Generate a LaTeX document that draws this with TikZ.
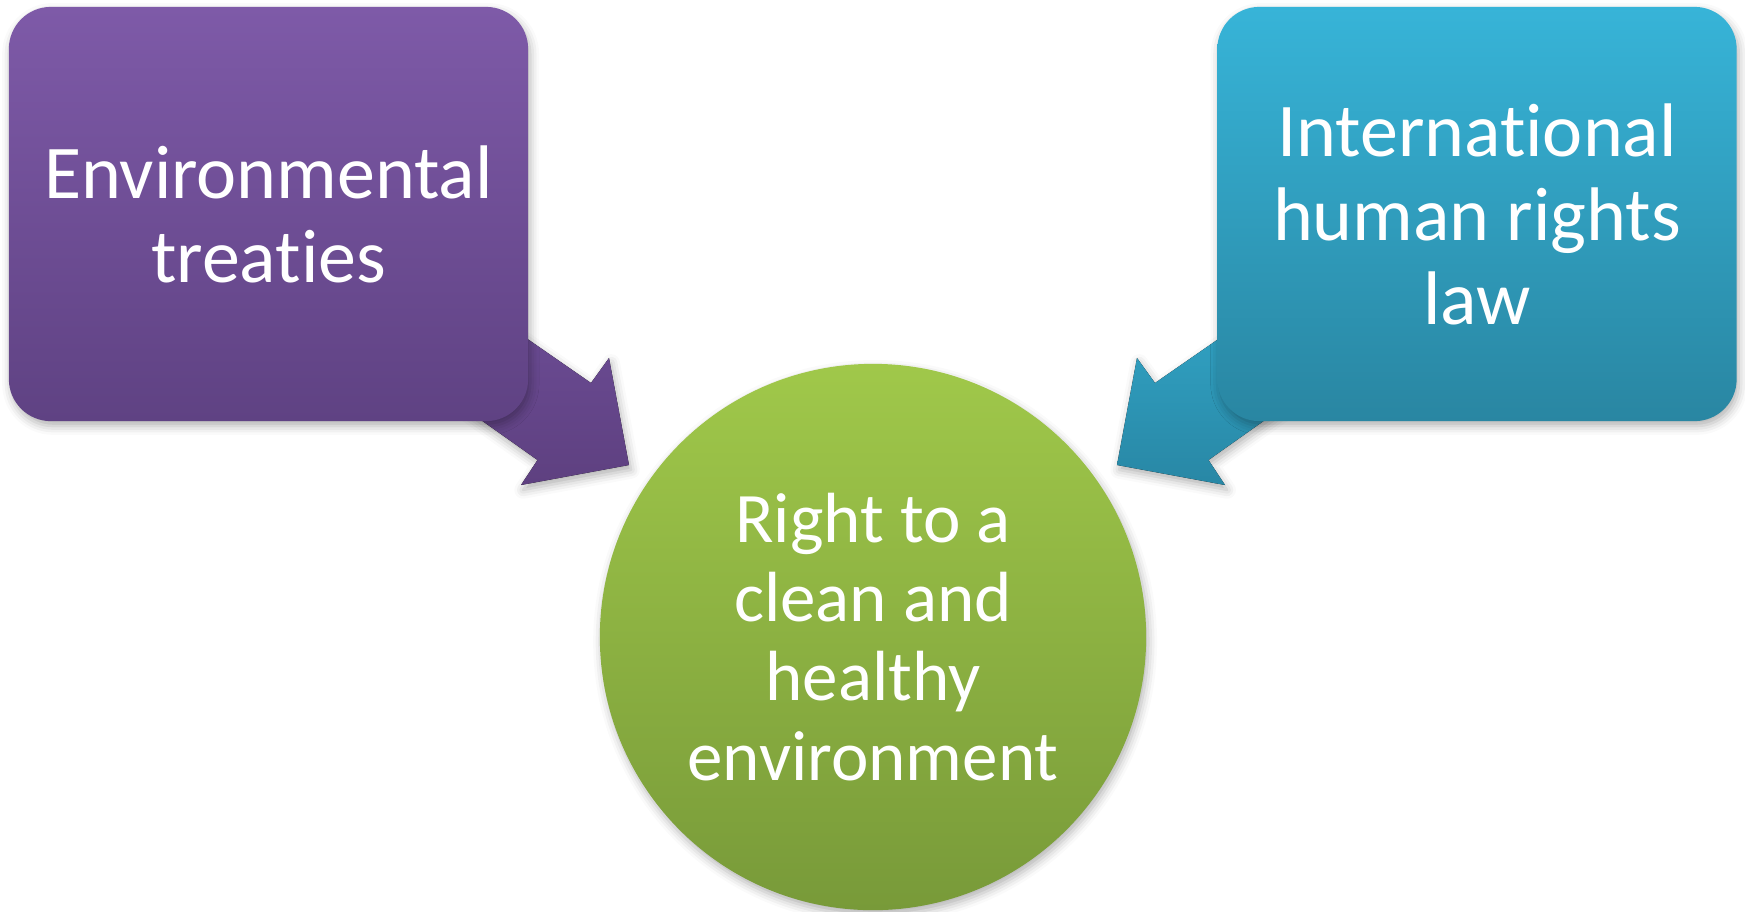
\documentclass[tikz,border=0pt]{standalone}
\usepackage{fontspec}
\setmainfont[Ligatures={NoCommon,NoContextual}]{Carlito}
\usetikzlibrary{shadows.blur}

\definecolor{purpletop}{HTML}{7E5AA8}
\definecolor{purplebot}{HTML}{5F4283}
\definecolor{purplearrowtop}{HTML}{6E4E98}
\definecolor{purplearrowbot}{HTML}{5E4080}
\definecolor{bluetop}{HTML}{37B4D8}
\definecolor{bluebot}{HTML}{2986A2}
\definecolor{bluearrowtop}{HTML}{33A8CA}
\definecolor{bluearrowbot}{HTML}{2887A5}
\definecolor{greentop}{HTML}{A0C84A}
\definecolor{greenbot}{HTML}{789A39}

\begin{document}
\begin{tikzpicture}[x=0.01cm,y=-0.01cm,
    softshadow/.style={blur shadow={shadow xshift=0.6pt,shadow yshift=-1.4pt,shadow blur radius=2.5pt,shadow opacity=30}},
    sourcebox/.style={softshadow,rounded corners=0.42cm,minimum width=5.19cm,minimum height=4.14cm,
      text=white,align=center,font=\fontsize{21.6}{23.9}\selectfont},
    goal/.style={softshadow,circle,minimum size=5.46cm,inner sep=0pt,
      text=white,align=center,font=\fontsize{20.2}{22.5}\selectfont}]
  \useasboundingbox (0,0) rectangle (1745,911);

  % block arrows, drawn first so the boxes hide their tails
  \fill[softshadow,top color=purplearrowtop,bottom color=purplearrowbot]
    (446,282.5) -- (591,383) -- (609,358) -- (629,465) -- (521,485) -- (537.5,460) -- (402,364) -- cycle;
  \fill[softshadow,top color=bluearrowtop,bottom color=bluearrowbot]
    (1300,282.5) -- (1155,383) -- (1137,358) -- (1117,465) -- (1225,485) -- (1208.5,460) -- (1344,364) -- cycle;

  % the two sources
  \node[sourcebox,top color=purpletop,bottom color=purplebot] (treaties) at (268.5,214) {Environmental\\treaties};
  \node[sourcebox,top color=bluetop,bottom color=bluebot] (humanrights) at (1477,214) {International\\human rights\\law};

  % the right they lead to
  \node[goal,top color=greentop,bottom color=greenbot] (cleanenv) at (873,637) {Right to a\\clean and\\healthy\\environment};
\end{tikzpicture}
\end{document}
